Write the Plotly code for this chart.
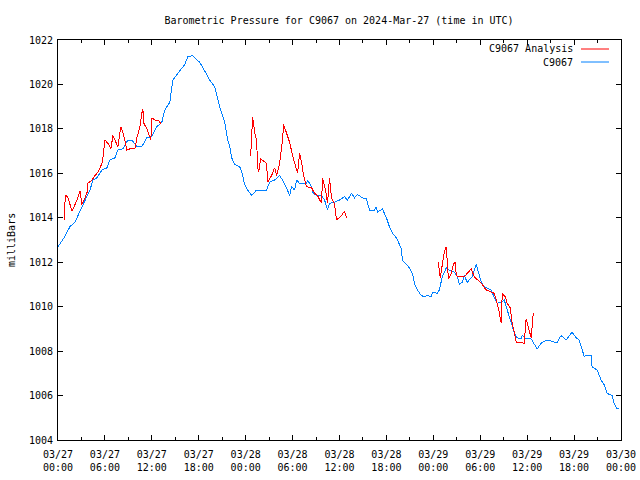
import plotly.graph_objects as go
import pandas as pd

START = pd.Timestamp("2024-03-27 00:00")

# Station observations (hours since 2024-03-27 00:00 UTC, pressure in mb)
station_hours = [0.0, 0.77, 1.53, 2.17, 2.81, 3.45, 4.09, 4.47, 4.98, 5.62, 6.26, 6.64, 7.28, 7.66,
                 8.30, 8.94, 9.45, 10.09, 10.72, 11.36, 12.0, 12.64, 13.28, 13.66, 14.30, 14.68,
                 15.57, 16.21, 16.60, 17.23, 17.75, 18.13, 18.77, 19.40, 20.04, 20.68, 21.32,
                 21.70, 21.96, 22.21, 22.60, 23.23, 23.49, 23.87, 24.26, 24.77, 25.40, 26.68,
                 27.06, 27.70, 28.34, 28.72, 29.23, 29.62, 29.87, 30.26, 30.51, 30.89, 31.79,
                 31.92, 32.43, 32.55, 33.06, 33.70, 34.09, 34.47, 34.72, 35.36, 36.0, 36.64,
                 37.02, 37.53, 37.92, 38.30, 38.94, 39.45, 39.83, 40.47, 40.72, 40.85, 41.49,
                 42.0, 42.38, 42.77, 43.28, 43.66, 43.92, 44.04, 44.55, 44.94, 45.32, 45.58,
                 45.96, 46.47, 46.85, 47.23, 47.74, 47.87, 48.51, 48.77, 49.15, 49.66, 50.04,
                 50.68, 51.07, 51.32, 51.70, 51.96, 52.34, 52.85, 52.98, 53.49, 53.62, 54.13,
                 54.51, 54.90, 55.41, 55.79, 56.17, 56.68, 57.07, 57.45, 57.96, 58.34, 58.72,
                 59.24, 59.36, 59.87, 60.51, 60.90, 61.28, 61.79, 62.43, 62.81, 63.45, 63.83,
                 64.34, 64.98, 65.75, 66.26, 66.64, 67.02, 67.28, 67.53, 68.17, 68.30, 68.94,
                 69.45, 69.83, 70.22, 70.85, 71.11, 71.49, 71.75]
station_mb = [1012.7, 1013.1, 1013.6, 1013.8, 1014.3, 1014.8, 1015.25, 1015.7, 1015.8, 1016.15,
              1016.25, 1016.6, 1016.7, 1017.05, 1017.1, 1017.5, 1017.5, 1017.2, 1017.2, 1017.6,
              1017.65, 1018.1, 1018.3, 1018.85, 1019.2, 1020.2, 1020.6, 1020.9, 1021.25, 1021.3,
              1021.1, 1021.0, 1020.6, 1020.2, 1019.9, 1019.0, 1018.3, 1017.5, 1017.2, 1016.7,
              1016.4, 1016.3, 1016.1, 1015.5, 1015.25, 1015.0, 1015.25, 1015.25, 1015.6, 1015.7,
              1015.9, 1015.7, 1015.35, 1015.0, 1015.4, 1015.25, 1015.7, 1015.55, 1015.55, 1015.7,
              1015.4, 1015.15, 1015.0, 1015.0, 1014.8, 1014.35, 1014.65, 1014.7, 1014.8, 1014.95,
              1014.8, 1015.1, 1014.9, 1015.05, 1014.9, 1014.85, 1014.35, 1014.35, 1014.5, 1014.25,
              1014.4, 1014.0, 1013.6, 1013.3, 1013.1, 1012.75, 1012.6, 1012.1, 1011.9, 1011.75,
              1011.5, 1011.05, 1010.75, 1010.5, 1010.45, 1010.5, 1010.45, 1010.65, 1010.6, 1010.75,
              1011.35, 1011.75, 1011.65, 1011.55, 1011.35, 1011.0, 1011.1, 1011.4, 1011.1, 1011.3,
              1011.35, 1011.9, 1011.75, 1011.1, 1010.9, 1010.85, 1010.75, 1010.4, 1010.15, 1010.2,
              1010.3, 1009.85, 1009.25, 1008.85, 1008.6, 1008.55, 1008.7, 1008.55, 1008.55, 1008.35,
              1008.1, 1008.35, 1008.5, 1008.5, 1008.4, 1008.4, 1008.7, 1008.5, 1008.85, 1008.6,
              1008.5, 1008.1, 1007.75, 1007.8, 1007.8, 1007.3, 1007.15, 1006.7, 1006.5, 1006.1,
              1006.0, 1005.65, 1005.4, 1005.4]

# Analysis values, three separate runs (None marks a gap)
analysis_hours = [0.77, 0.8, 1.02, 1.28, 1.79, 2.43, 2.81, 3.06, 3.19, 3.70, 3.83, 4.34, 4.72, 5.11,
                  5.62, 5.74, 6.0, 6.38, 6.77, 7.02, 7.28, 7.66, 8.04, 8.30, 8.55, 8.81, 9.19, 9.83,
                  10.09, 10.47, 10.72, 10.85, 10.98, 11.36, 11.74, 11.87, 12.0, 12.38, 12.77, 13.15,
                  None,
                  24.64, 24.77, 24.89, 25.15, 25.40, 25.53, 25.66, 25.92, 26.68, 26.81, 27.32, 27.70,
                  27.96, 28.34, 28.72, 28.85, 29.23, 29.62, 30.0, 30.51, 30.64, 30.89, 31.15, 31.40,
                  31.79, 32.43, 32.81, 33.19, 33.70, 33.83, 34.21, 34.47, 34.72, 34.98, 35.36, 35.62,
                  36.26, 36.64, 36.89,
                  None,
                  48.64, 48.89, 49.15, 49.40, 49.66, 49.79, 49.92, 50.30, 50.55, 50.81, 50.94, 51.07,
                  51.96, 52.34, 52.85, 53.23, 54.13, 54.77, 55.79, 56.04, 56.43, 56.68, 56.81, 57.19,
                  57.45, 57.83, 58.09, 58.34, 58.60, 59.24, 59.62, 59.87, 60.13, 60.51, 60.64, 60.77]
analysis_mb = [1013.9, 1014.5, 1015.0, 1014.9, 1014.3, 1014.8, 1015.2, 1014.6, 1014.7, 1015.1,
               1015.55, 1015.7, 1015.9, 1016.05, 1016.45, 1016.7, 1017.5, 1017.35, 1017.1, 1017.7,
               1017.5, 1017.2, 1018.1, 1017.85, 1017.5, 1017.05, 1017.1, 1017.1, 1017.6, 1018.1,
               1018.7, 1018.9, 1018.25, 1018.0, 1017.65, 1017.5, 1018.5, 1018.4, 1018.4, 1018.25,
               None,
               1016.8, 1017.85, 1018.55, 1017.85, 1017.5, 1016.3, 1016.05, 1016.65, 1016.45, 1015.6,
               1015.9, 1016.25, 1015.9, 1016.45, 1017.5, 1018.2, 1017.85, 1017.4, 1016.8, 1016.15,
               1016.0, 1016.9, 1016.5, 1015.9, 1015.4, 1015.35, 1015.1, 1015.0, 1014.65, 1015.8,
               1015.25, 1014.65, 1015.8, 1014.9, 1014.6, 1013.9, 1014.1, 1014.3, 1014.0,
               None,
               1012.0, 1011.3, 1011.9, 1012.45, 1012.7, 1012.0, 1011.25, 1011.5, 1011.9, 1012.0,
               1011.4, 1011.35, 1011.35, 1011.5, 1011.7, 1011.35, 1011.05, 1010.75, 1010.6, 1010.3,
               1009.75, 1009.25, 1010.6, 1010.45, 1010.15, 1009.95, 1009.25, 1008.85, 1008.4, 1008.4,
               1008.35, 1009.45, 1009.15, 1008.6, 1009.1, 1009.7]

tick_hours = list(range(0, 73, 6))
tick_labels = ["03/27<br>00:00", "03/27<br>06:00", "03/27<br>12:00", "03/27<br>18:00",
               "03/28<br>00:00", "03/28<br>06:00", "03/28<br>12:00", "03/28<br>18:00",
               "03/29<br>00:00", "03/29<br>06:00", "03/29<br>12:00", "03/29<br>18:00",
               "03/30<br>00:00"]
y_ticks = list(range(1004, 1023, 2))

series_names = ["C9067 Analysis", "C9067"]
RED = "#ff0000"
BLUE = "#0080ff"
FONT = "DejaVu Sans Mono"


def to_time(hours):
    return [None if h is None else START + pd.Timedelta(hours=h) for h in hours]


fig = go.Figure()
fig.add_trace(go.Scatter(x=to_time(station_hours), y=station_mb, mode="lines",
                         line=dict(color=BLUE, width=1), name=series_names[1],
                         showlegend=False))
fig.add_trace(go.Scatter(x=to_time(analysis_hours), y=analysis_mb, mode="lines",
                         line=dict(color=RED, width=1), name=series_names[0],
                         connectgaps=False, showlegend=False))

L, R, T, B = 58, 19, 40, 40
W, H = 640, 480
pw, ph = W - L - R, H - T - B


def px_x(x):
    return (x - L) / pw


def px_y(y):
    return (H - B - y) / ph


# Legend drawn gnuplot-style: text on left, sample line on right
legend_rows = [(series_names[0], RED, 49), (series_names[1], BLUE, 62)]
annotations = []
shapes = []
for name, col, yy in legend_rows:
    annotations.append(dict(x=px_x(575), y=px_y(yy), xref="paper", yref="paper",
                            text=name, showarrow=False, xanchor="right", yanchor="middle",
                            font=dict(family=FONT, size=10, color="black")))
    shapes.append(dict(type="line", xref="paper", yref="paper",
                       x0=px_x(581), x1=px_x(609), y0=px_y(yy), y1=px_y(yy),
                       line=dict(color=col, width=1)))

annotations.append(dict(x=px_x(11), y=0.5, xref="paper", yref="paper", text="milliBars",
                        textangle=-90, showarrow=False, xanchor="center", yanchor="middle",
                        font=dict(family=FONT, size=10, color="black")))

fig.update_layout(
    width=W, height=H,
    margin=dict(l=L, r=R, t=T, b=B, pad=0, autoexpand=False),
    paper_bgcolor="white", plot_bgcolor="white",
    font=dict(family=FONT, size=10, color="black"),
    title=dict(text="Barometric Pressure for C9067 on 2024-Mar-27 (time in UTC)",
               x=px_x(339), xref="paper", xanchor="center",
               y=1 - 20 / H, yanchor="middle",
               font=dict(family=FONT, size=10, color="black")),
    annotations=annotations,
    shapes=shapes,
    showlegend=False,
)

fig.update_xaxes(
    type="date", automargin=False,
    range=[START, START + pd.Timedelta(hours=72)],
    tickvals=to_time(tick_hours), ticktext=tick_labels,
    ticks="inside", ticklen=5, tickwidth=1, tickcolor="black",
    minor=dict(dtick=3 * 3600 * 1000, tick0=START, ticks="inside", ticklen=3,
               tickcolor="black", showgrid=False),
    showline=True, linecolor="black", linewidth=1, mirror="ticks",
    showgrid=False, zeroline=False,
    tickfont=dict(family=FONT, size=10, color="black"),
    ticklabelstandoff=5,
)
fig.update_yaxes(
    automargin=False,
    range=[1004, 1022], tickvals=y_ticks,
    ticks="inside", ticklen=5, tickwidth=1, tickcolor="black",
    showline=True, linecolor="black", linewidth=1, mirror="ticks",
    showgrid=False, zeroline=False,
    tickfont=dict(family=FONT, size=10, color="black"),
    ticklabelstandoff=2,
)

post = ("document.body.style.margin='0';"
        "var s=document.createElement('style');"
        "s.textContent='.scatterlayer path{shape-rendering:crispEdges}';"
        "document.head.appendChild(s);")
fig.write_html("out.html", post_script=post, config={"displayModeBar": False})
